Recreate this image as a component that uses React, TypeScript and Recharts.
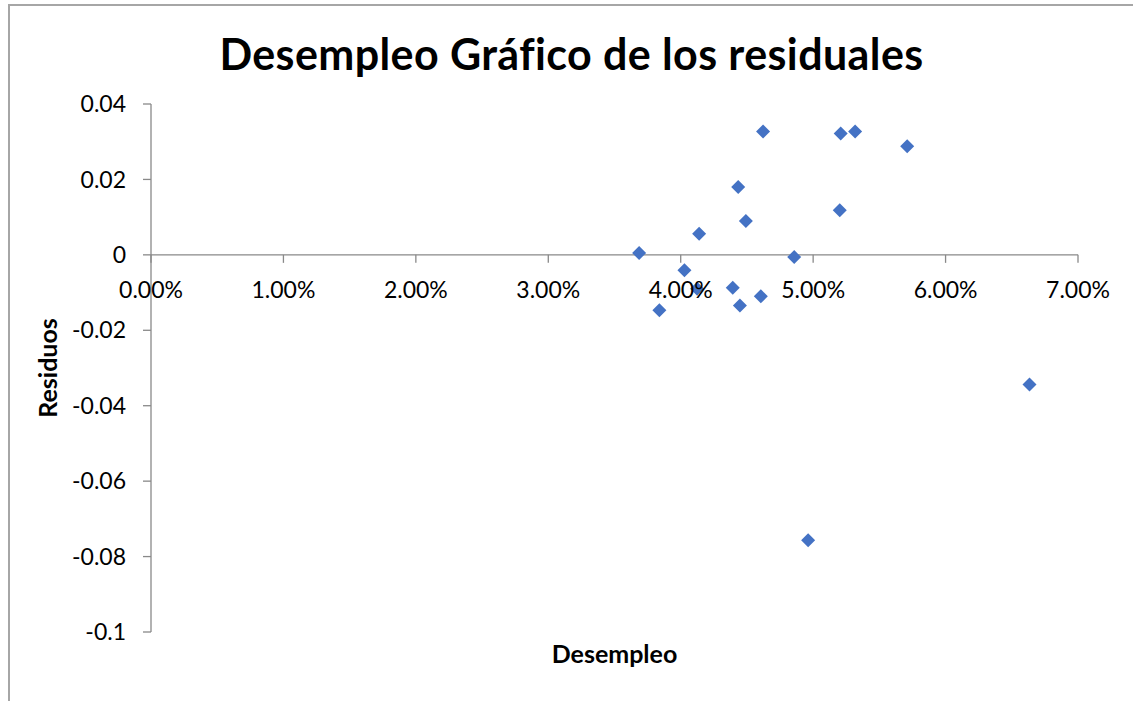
import React from 'react';
import { ScatterChart, Scatter, XAxis, YAxis, ReferenceLine, ReferenceDot, Label } from 'recharts';

// unemployment rate (x) and regression residuals (y)
const desempleo = [
  0.03686, 0.04622, 0.05208, 0.05317, 0.0571, 0.04434, 0.05201, 0.04492, 0.04139,
  0.04857, 0.04028, 0.04124, 0.04393, 0.04605, 0.04447, 0.03839, 0.06634, 0.04962,
];
const residuos = [
  0.0005, 0.0327, 0.0322, 0.0327, 0.0288, 0.018, 0.0118, 0.009, 0.0056,
  -0.0006, -0.0041, -0.009, -0.0087, -0.011, -0.0134, -0.0147, -0.0344, -0.0757,
];
const xTicks = [0, 0.01, 0.02, 0.03, 0.04, 0.05, 0.06, 0.07];
const yTicks = [0.04, 0.02, 0, -0.02, -0.04, -0.06, -0.08, -0.1];

const data = desempleo.map((x, i) => ({ x, y: residuos[i] }));

const W = 1133;
const H = 701;
const FONT = 'Lato, "Open Sans", sans-serif';
const AXIS = '#898989';
const BLUE = '#4472C4';

const Diamond = (props: any) => {
  const { cx, cy } = props;
  const r = 7;
  return <path d={`M${cx},${cy - r}L${cx + r},${cy}L${cx},${cy + r}L${cx - r},${cy}Z`} fill={BLUE} />;
};

// x axis sits on y = 0, so its ticks are drawn as reference dots on that line
const XTick = (label: string) => (props: any) => {
  const { cx, cy } = props;
  return (
    <g>
      <line x1={cx} y1={cy} x2={cx} y2={cy + 8} stroke={AXIS} strokeWidth={1.3} />
      <text x={cx} y={cy + 43} textAnchor="middle" fontFamily={FONT} fontSize={23} fill="#000">
        {label}
      </text>
    </g>
  );
};

const fmtY = (v: number) => String(parseFloat(v.toFixed(2)));

export default function App() {
  return (
    <div style={{ position: 'absolute', left: 0, top: 0, width: W, height: H, background: '#fff', overflow: 'hidden' }}>
      <div
        style={{
          position: 'absolute', left: 8, top: 4, width: W, height: H,
          borderTop: '2px solid #a6a6a6', borderLeft: '2px solid #a6a6a6',
        }}
      />
      <ScatterChart width={W} height={H} margin={{ top: 104, right: 55, bottom: 69, left: 31 }}>
        <XAxis type="number" dataKey="x" domain={[0, 0.07]} ticks={xTicks} hide />
        <YAxis
          type="number"
          dataKey="y"
          domain={[-0.1, 0.04]}
          ticks={yTicks}
          interval={0}
          width={120}
          tickSize={8}
          tickMargin={17}
          tickFormatter={fmtY}
          axisLine={{ stroke: AXIS, strokeWidth: 1.3 }}
          tickLine={{ stroke: AXIS, strokeWidth: 1.3 }}
          tick={{ fill: '#000', fontFamily: FONT, fontSize: 23 }}
        >
          <Label
            content={(p: any) => {
              const vb = p.viewBox;
              const x = vb.x + 16;
              const y = vb.y + vb.height / 2;
              return (
                <text x={x} y={y} transform={`rotate(-90, ${x}, ${y})`} textAnchor="middle"
                  dominantBaseline="central" fontFamily={FONT} fontWeight="bold" fontSize={25} fill="#000">
                  Residuos
                </text>
              );
            }}
          />
        </YAxis>
        <ReferenceLine y={0} stroke={AXIS} strokeWidth={1.3} />
        <Scatter data={data} shape={Diamond} isAnimationActive={false} />
        {xTicks.map((t) => (
          <ReferenceDot key={t} x={t} y={0} r={0} shape={XTick((t * 100).toFixed(2) + '%')} />
        ))}
      </ScatterChart>
      <svg width={W} height={H} style={{ position: 'absolute', left: 0, top: 0, pointerEvents: 'none' }}>
        <text x={571.5} y={70} textAnchor="middle" fontFamily={FONT} fontWeight="bold" fontSize={43}
          letterSpacing={0.4} fill="#000">
          Desempleo Gráfico de los residuales
        </text>
        <text x={614.5} y={663} textAnchor="middle" fontFamily={FONT} fontWeight="bold" fontSize={25} fill="#000">
          Desempleo
        </text>
      </svg>
    </div>
  );
}
